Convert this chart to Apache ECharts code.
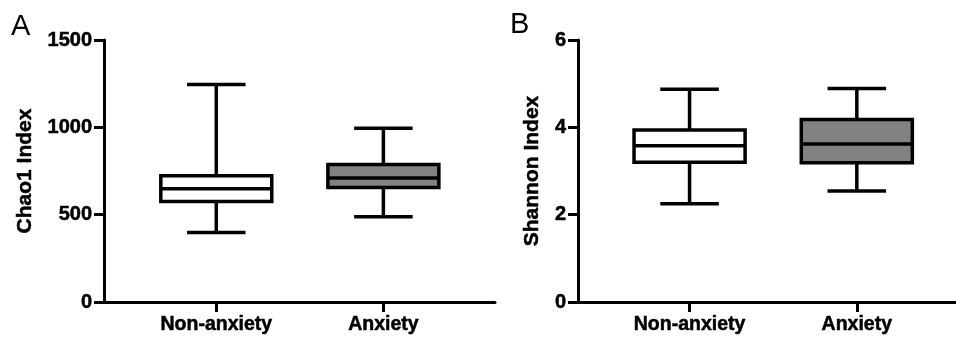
<!DOCTYPE html>
<html>
<head>
<meta charset="utf-8">
<script src="https://cdn.jsdelivr.net/npm/echarts@6/dist/echarts.min.js"></script>
<style>
  html, body { margin: 0; padding: 0; background: #ffffff; }
  #chart { width: 956px; height: 337px; }
</style>
</head>
<body>
<div id="chart"></div>
<script>
// ---- data (box = [min, Q1, median, Q3, max]) ----
const categories = ['Non-anxiety', 'Anxiety'];
const chao1NonAnxiety = [398, 575, 648, 723, 1245];
const chao1Anxiety = [488, 655, 710, 787, 995];
const shannonNonAnxiety = [2.25, 3.20, 3.58, 3.94, 4.87];
const shannonAnxiety = [2.54, 3.19, 3.62, 4.18, 4.89];
const chao1Ticks = [0, 500, 1000, 1500];
const shannonTicks = [0, 2, 4, 6];
const panelLabels = ['A', 'B'];
const axisTitles = ['Chao1 Index', 'Shannon Index'];

// ---- styles ----
const FONT = '"Liberation Sans", Arial, Helvetica, sans-serif';
const LINE_W = 3.5;
const BOX_FILLS = ['#ffffff', '#828282'];
const BOX_W = 0.664;   // in category units
const CAP_W = 0.35;
const HEAVY = { textBorderColor: '#000', textBorderWidth: 0.5 };

function renderBox(params, api) {
  const x = api.value(0);
  const pMin = api.coord([x, api.value(1)]);
  const pQ1 = api.coord([x, api.value(2)]);
  const pMed = api.coord([x, api.value(3)]);
  const pQ3 = api.coord([x, api.value(4)]);
  const pMax = api.coord([x, api.value(5)]);
  const bw = api.size([BOX_W, 0])[0];
  const cw = api.size([CAP_W, 0])[0];
  const cx = pMed[0];
  const ls = { stroke: '#000000', lineWidth: LINE_W, fill: null };
  return {
    type: 'group',
    children: [
      { type: 'line', shape: { x1: cx, y1: pQ3[1], x2: cx, y2: pMax[1] }, style: ls },
      { type: 'line', shape: { x1: cx, y1: pQ1[1], x2: cx, y2: pMin[1] }, style: ls },
      { type: 'line', shape: { x1: cx - cw / 2, y1: pMax[1], x2: cx + cw / 2, y2: pMax[1] }, style: ls },
      { type: 'line', shape: { x1: cx - cw / 2, y1: pMin[1], x2: cx + cw / 2, y2: pMin[1] }, style: ls },
      { type: 'rect', shape: { x: cx - bw / 2, y: pQ3[1], width: bw, height: pQ1[1] - pQ3[1] },
        style: { fill: BOX_FILLS[params.dataIndex], stroke: '#000000', lineWidth: LINE_W } },
      { type: 'line', shape: { x1: cx - bw / 2, y1: pMed[1], x2: cx + bw / 2, y2: pMed[1] }, style: ls }
    ]
  };
}

function xAxisDef(gridIndex, min, max) {
  return {
    type: 'value', gridIndex: gridIndex, min: min, max: max,
    splitLine: { show: false },
    axisLine: { show: true, onZero: false, lineStyle: { color: '#000', width: 3 } },
    axisTick: { show: true, customValues: [0, 1], length: 10, lineStyle: { color: '#000', width: 3 } },
    axisLabel: Object.assign({
      customValues: [0, 1], margin: 13,
      formatter: function (v) { return categories[Math.round(v)] || ''; },
      color: '#000', fontFamily: FONT, fontWeight: 'bold', fontSize: 19.5
    }, HEAVY)
  };
}

function yAxisDef(gridIndex, ticks, title, nameGap) {
  return {
    type: 'value', gridIndex: gridIndex,
    min: ticks[0], max: ticks[ticks.length - 1], interval: ticks[1] - ticks[0],
    name: title, nameLocation: 'middle', nameGap: nameGap,
    nameTextStyle: Object.assign({ color: '#000', fontFamily: FONT, fontWeight: 'bold', fontSize: 21 }, HEAVY),
    splitLine: { show: false },
    axisLine: { show: true, onZero: false, lineStyle: { color: '#000', width: 3 } },
    axisTick: { show: true, length: 10, lineStyle: { color: '#000', width: 3 } },
    axisLabel: Object.assign({
      margin: 12, color: '#000', fontFamily: FONT, fontWeight: 'bold', fontSize: 20,
      formatter: function (v) { return String(v); }
    }, HEAVY)
  };
}

const chart = echarts.init(document.getElementById('chart'), null, { renderer: 'canvas' });
chart.setOption({
  animation: false,
  backgroundColor: '#ffffff',
  grid: [
    { left: 104, top: 40, bottom: 35, width: 391 },
    { left: 578, top: 40, bottom: 35, right: 0 }
  ],
  xAxis: [xAxisDef(0, -0.672, 1.668), xAxisDef(1, -0.667, 1.593)],
  yAxis: [yAxisDef(0, chao1Ticks, axisTitles[0], 68), yAxisDef(1, shannonTicks, axisTitles[1], 35)],
  graphic: [
    { type: 'text', left: 11, top: 12, style: { text: panelLabels[0], font: '29px ' + FONT, fill: '#000' } },
    { type: 'text', left: 510, top: 10, style: { text: panelLabels[1], font: '29px ' + FONT, fill: '#000' } }
  ],
  series: [
    { type: 'custom', xAxisIndex: 0, yAxisIndex: 0, renderItem: renderBox,
      encode: { x: 0, y: [1, 2, 3, 4, 5] },
      data: [[0].concat(chao1NonAnxiety), [1].concat(chao1Anxiety)] },
    { type: 'custom', xAxisIndex: 1, yAxisIndex: 1, renderItem: renderBox,
      encode: { x: 0, y: [1, 2, 3, 4, 5] },
      data: [[0].concat(shannonNonAnxiety), [1].concat(shannonAnxiety)] }
  ]
});
</script>
</body>
</html>
